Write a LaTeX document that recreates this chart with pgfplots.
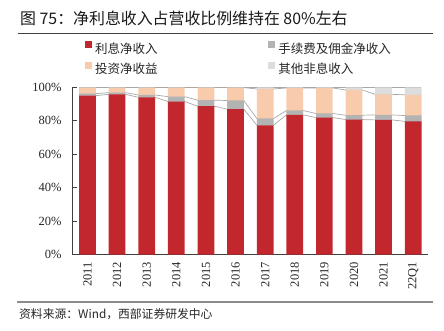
\documentclass[border=0pt]{standalone}
\usepackage{pgfplots}
\pgfplotsset{compat=1.18}
\usepackage{pgfplotstable}
\usepackage{fontspec}
\setmainfont{Liberation Serif}
\newfontfamily\cjk{Noto Sans CJK SC}
\definecolor{cred}{HTML}{C1272D}
\definecolor{cgray}{HTML}{B3B3B3}
\definecolor{cpeach}{HTML}{F8CBAD}
\definecolor{clight}{HTML}{DDDDDD}
\definecolor{cline}{HTML}{A8A8A8}
\definecolor{caxis}{HTML}{404040}

\pgfplotstableread{
x r g p o
0 95.0 1.2 3.6 0.2
1 95.8 1.0 3.0 0.2
2 94.0 1.4 4.4 0.2
3 91.5 2.9 5.4 0.2
4 88.7 3.6 7.5 0.2
5 86.9 5.2 7.7 0.2
6 77.3 4.0 17.7 1.0
7 83.5 2.6 13.5 0.4
8 81.9 2.4 15.3 0.4
9 80.7 2.6 15.1 1.6
10 80.5 3.0 12.3 4.2
11 79.6 3.5 12.4 4.5
}\data

\pgfplotsset{common/.style={
  scale only axis, width=355.3bp, height=167.2bp,
  at={(72.7bp,76.5bp)}, anchor=south west,
  xmin=-0.5, xmax=11.5, ymin=0, ymax=100,
}}

\begin{document}
\begin{tikzpicture}
\path[use as bounding box] (0,0) rectangle (444bp,331bp);

% title
\node[anchor=west, inner sep=0pt, text=black!90, font=\cjk\fontsize{15.9bp}{18bp}\selectfont] at (20bp,312.7bp) {图 75：净利息收入占营收比例维持在 80\%左右};
\draw[caxis, line width=1.2bp] (18bp,297.7bp) -- (433bp,297.7bp);

% series lines (behind bars)
\begin{axis}[common, hide axis]
\addplot[sharp plot, no markers, draw=cline, line width=0.7bp] coordinates {(-0.28,95.0)(0.28,95.0)(0.72,95.8)(1.28,95.8)(1.72,94.0)(2.28,94.0)(2.72,91.5)(3.28,91.5)(3.72,88.7)(4.28,88.7)(4.72,86.9)(5.28,86.9)(5.72,77.3)(6.28,77.3)(6.72,83.5)(7.28,83.5)(7.72,81.9)(8.28,81.9)(8.72,80.7)(9.28,80.7)(9.72,80.5)(10.28,80.5)(10.72,79.6)(11.28,79.6)};
\addplot[sharp plot, no markers, draw=cline, line width=0.7bp] coordinates {(-0.28,96.2)(0.28,96.2)(0.72,96.8)(1.28,96.8)(1.72,95.4)(2.28,95.4)(2.72,94.4)(3.28,94.4)(3.72,92.3)(4.28,92.3)(4.72,92.1)(5.28,92.1)(5.72,81.3)(6.28,81.3)(6.72,86.1)(7.28,86.1)(7.72,84.3)(8.28,84.3)(8.72,83.3)(9.28,83.3)(9.72,83.5)(10.28,83.5)(10.72,83.1)(11.28,83.1)};
\addplot[sharp plot, no markers, draw=cline, line width=0.7bp] coordinates {(-0.28,99.8)(0.28,99.8)(0.72,99.8)(1.28,99.8)(1.72,99.8)(2.28,99.8)(2.72,99.8)(3.28,99.8)(3.72,99.8)(4.28,99.8)(4.72,99.8)(5.28,99.8)(5.72,99.0)(6.28,99.0)(6.72,99.6)(7.28,99.6)(7.72,99.6)(8.28,99.6)(8.72,98.4)(9.28,98.4)(9.72,95.8)(10.28,95.8)(10.72,95.5)(11.28,95.5)};
\addplot[sharp plot, no markers, draw=cline, line width=0.7bp] coordinates {(-0.28,100)(11.28,100)};
\end{axis}

% bars
\begin{axis}[common,
  ybar stacked, bar width=0.565,
  axis lines=left,
  axis line style={-, caxis, line width=0.8bp},
  xtick={0,...,11},
  xticklabels={2011,2012,2013,2014,2015,2016,2017,2018,2019,2020,2021,22Q1},
  xtick style={draw=none},
  ytick={0,20,40,60,80,100},
  ytick style={caxis, line width=0.8bp},
  tick align=inside, major tick length=4bp,
  yticklabel={\pgfmathprintnumber{\tick}\%},
  /pgf/number format/assume math mode=true,
  tick label style={font=\fontsize{12.5bp}{14bp}\selectfont, text=black!85},
  xticklabel style={rotate=90, anchor=east, inner sep=0pt},
  yticklabel style={anchor=east, inner sep=0pt},
  xticklabel shift=7.5bp,
  yticklabel shift=11bp,
  legend columns=2,
  legend cell align=left,
  legend style={at={(0.0346,1.1734)}, anchor=west, draw=none, fill=none, inner sep=0pt,
    font=\cjk\fontsize{12.5bp}{14bp}\selectfont, text=black!85,
    nodes={inner sep=0pt},
    /tikz/row sep=7bp,
    /tikz/every odd column/.append style={column sep=3.3bp},
    /tikz/every even column/.append style={column sep=110.8bp}},
  legend image code/.code={\fill[#1] (0bp,0.9bp) rectangle (6.7bp,7.6bp);},
]
\addplot[fill=cred, draw=none] table[x=x, y=r]{\data};
\addplot[fill=cgray, draw=none] table[x=x, y=g]{\data};
\addplot[fill=cpeach, draw=none] table[x=x, y=p]{\data};
\addplot[fill=clight, draw=none] table[x=x, y=o]{\data};
\legend{利息净收入,手续费及佣金净收入,投资净收益,其他非息收入}
\end{axis}

% footer
\draw[black!45, line width=2bp] (17.3bp,29.3bp) -- (433bp,29.3bp);
\node[anchor=west, inner sep=0pt, text=black!85, font=\cjk\fontsize{11.8bp}{14bp}\selectfont] at (19bp,16.7bp) {资料来源：Wind，西部证券研发中心};
\end{tikzpicture}
\end{document}
